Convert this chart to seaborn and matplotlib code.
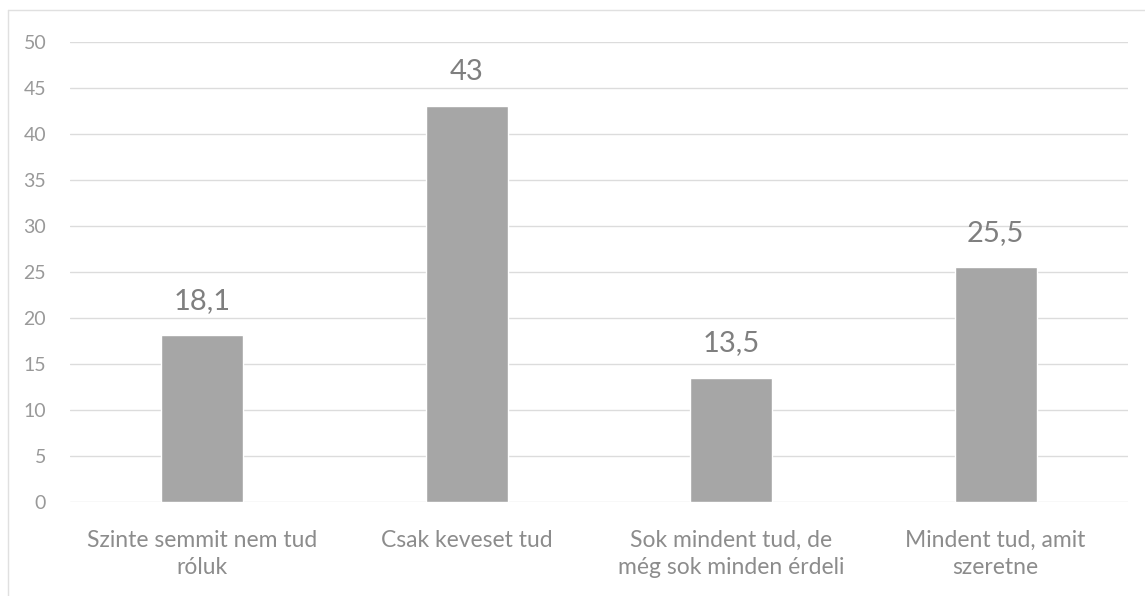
import matplotlib
matplotlib.use('Agg')
import matplotlib.pyplot as plt
from matplotlib.lines import Line2D
import seaborn as sns
import pandas as pd

categories = ['Szinte semmit nem tud\nróluk', 'Csak keveset tud',
              'Sok mindent tud, de\nmég sok minden érdeli', 'Mindent tud, amit\nszeretne']
values = [18.1, 43, 13.5, 25.5]
value_labels = ['18,1', '43', '13,5', '25,5']
y_ticks = [0, 5, 10, 15, 20, 25, 30, 35, 40, 45, 50]

sns.set_style('white')
plt.rcParams['font.family'] = ['Lato', 'DejaVu Sans']

df = pd.DataFrame({'cat': categories, 'val': values})

fig = plt.figure(figsize=(11.45, 5.96), dpi=100)
ax = fig.add_axes([0.061, 0.158, 0.924, 0.772])

sns.barplot(data=df, x='cat', y='val', color='#a6a6a6', width=0.31,
            saturation=1, ax=ax, zorder=3)

# data labels above bars
for i, (v, lab) in enumerate(zip(values, value_labels)):
    ax.text(i, v + 2.3, lab, ha='center', va='bottom', fontsize=21, color='#7f7f7f')

ax.set_ylim(0, 50)
ax.set_xlim(-0.5, 3.5)
ax.set_yticks(y_ticks)
ax.yaxis.grid(True, color='#dcdcdc', linewidth=1, zorder=0)
ax.set_axisbelow(True)
for s in ax.spines.values():
    s.set_visible(False)
ax.tick_params(axis='y', length=0, pad=17, labelsize=14, labelcolor='#999999')
ax.tick_params(axis='x', length=0, pad=20, labelsize=16.5, labelcolor='#8c8c8c')
for t in ax.get_xticklabels():
    t.set_multialignment('center')
    t.set_linespacing(1.4)
ax.set_xlabel('')
ax.set_ylabel('')

# faint frame lines (top and left) around the chart
fig.add_artist(Line2D([0.007, 1.0], [0.983, 0.983], transform=fig.transFigure,
                      color='#e0e0e0', linewidth=1))
fig.add_artist(Line2D([0.007, 0.007], [0.0, 0.983], transform=fig.transFigure,
                      color='#e0e0e0', linewidth=1))

fig.savefig('out.png', dpi=100, facecolor='white')
